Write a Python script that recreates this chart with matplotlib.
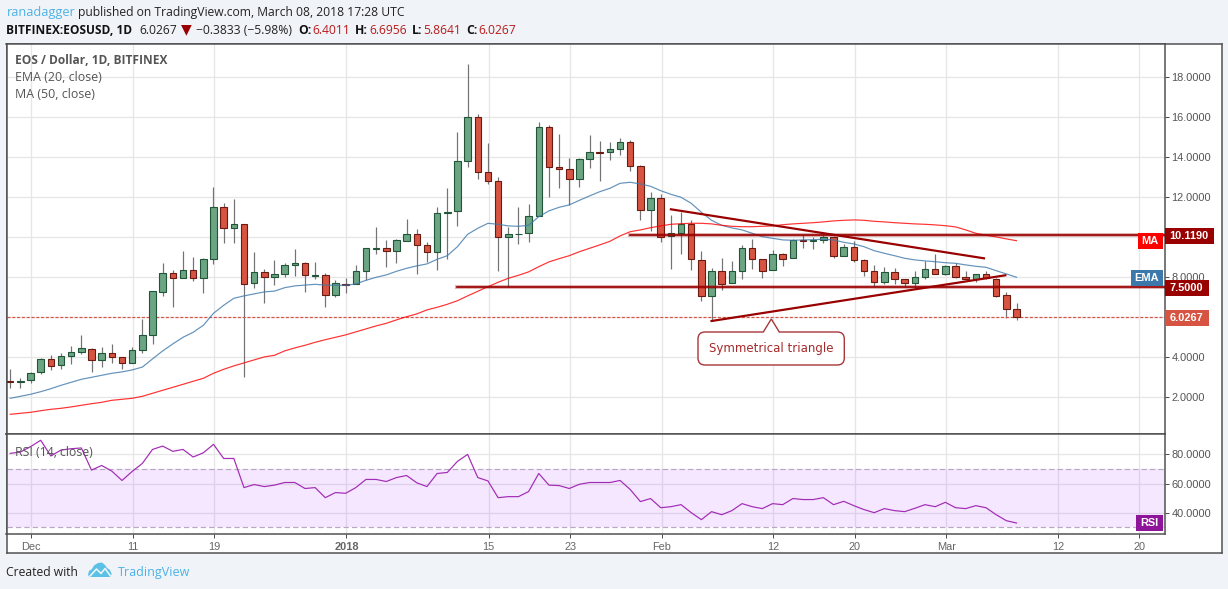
import matplotlib
matplotlib.use("Agg")
from matplotlib import pyplot as plt
from matplotlib.patches import Rectangle, PathPatch, Polygon
from matplotlib.path import Path

W, H = 1228, 589
PX = 0.72  # one pixel in points at dpi 100

opens = [2.80,2.76,2.85,3.25,3.90,3.60,4.05,4.25,4.40,3.85,4.20,4.00,3.70,4.35,5.10,7.25,8.20,7.95,8.35,7.95,
         8.90,11.50,10.45,10.65,7.70,8.25,8.00,8.15,8.60,8.70,8.08,8.10,7.10,7.66,7.65,8.30,9.43,9.45,9.30,9.80,
         10.15,9.60,9.25,11.20,11.30,13.80,16.00,13.25,12.80,10.00,10.15,10.20,11.05,15.50,13.50,13.40,12.90,13.90,14.25,14.25,
         14.40,14.75,13.55,11.35,11.95,10.05,10.20,10.65,8.85,7.05,8.30,7.70,8.30,9.45,8.90,8.35,9.15,8.95,9.85,9.83,
         9.85,10.00,9.05,9.50,8.85,8.30,7.75,8.25,7.90,7.70,8.00,8.40,8.15,8.55,8.00,7.90,8.15,7.90,7.10,6.4011]
highs = [3.40,2.95,3.25,3.97,4.10,4.22,4.55,5.12,4.45,4.52,4.67,4.00,4.52,5.92,7.30,8.70,8.35,9.32,9.02,8.95,
         12.50,11.70,11.90,10.65,9.27,8.40,8.87,8.70,9.42,8.75,8.77,8.20,7.87,7.95,8.62,9.45,10.52,9.85,9.90,10.92,
         10.42,9.77,11.52,12.47,15.27,18.67,16.15,14.72,13.02,10.52,11.52,11.67,15.77,15.62,15.17,13.97,13.97,15.12,14.82,14.75,
         14.95,14.87,13.62,12.27,12.17,11.12,11.25,10.85,9.30,8.45,8.95,8.82,9.60,9.90,8.90,9.35,9.20,9.90,10.10,10.00,
         10.12,10.05,9.65,9.82,8.90,8.60,8.52,8.45,7.90,8.32,8.82,9.15,8.60,8.70,8.32,8.15,8.30,7.95,7.25,6.6956]
lows = [2.48,2.48,2.73,3.18,3.37,3.42,3.67,4.16,3.26,3.52,3.72,3.42,3.70,4.22,4.67,7.07,6.52,7.95,7.83,7.23,
        8.68,9.73,9.73,3.03,7.47,6.72,7.62,8.03,8.07,7.28,7.93,6.53,7.03,7.23,7.65,7.87,9.17,8.52,8.72,9.80,
        8.17,8.75,8.37,8.92,10.57,13.50,12.92,12.67,8.32,7.50,9.67,9.77,11.05,12.00,12.47,11.62,12.52,13.47,12.83,13.87,
        14.12,13.33,10.88,10.33,9.78,8.43,9.17,8.38,6.83,5.81,7.37,7.70,7.93,8.43,7.98,8.35,8.57,8.95,9.45,9.40,
        9.72,8.95,9.05,8.75,8.08,7.58,7.65,7.65,7.50,7.45,7.90,8.15,8.10,7.95,7.85,7.75,7.90,7.03,5.95,5.8641]
closes = [2.76,2.80,3.20,3.90,3.55,4.05,4.25,4.45,3.85,4.20,4.00,3.70,4.35,5.10,7.30,8.20,7.95,8.35,7.95,8.90,
          11.50,10.45,10.65,7.65,8.25,8.00,8.15,8.60,8.70,8.10,8.10,7.10,7.70,7.63,8.30,9.45,9.45,9.30,9.85,10.15,
          9.60,9.25,11.20,11.25,13.80,16.00,13.25,12.80,10.00,10.15,10.18,11.05,15.50,13.50,13.40,12.90,13.90,14.25,14.22,14.40,
          14.75,13.55,11.35,11.95,10.00,10.20,10.65,8.90,7.05,8.30,7.65,8.30,9.45,8.90,8.30,9.15,8.90,9.85,9.83,9.87,
          10.00,9.05,9.50,8.85,8.30,7.75,8.25,7.90,7.70,8.00,8.40,8.15,8.55,8.00,7.90,8.15,7.95,7.08,6.40,6.0267]
ema20 = [1.95,2.05,2.15,2.28,2.43,2.60,2.75,2.90,3.00,3.10,3.20,3.27,3.37,3.51,3.92,4.32,4.67,5.00,5.25,5.60,
         6.20,6.60,6.95,7.07,7.17,7.27,7.31,7.48,7.57,7.61,7.65,7.61,7.60,7.60,7.67,7.85,8.00,8.12,8.30,8.45,
         8.57,8.67,8.90,9.08,9.53,10.15,10.45,10.70,10.65,10.57,10.55,10.60,11.03,11.32,11.50,11.62,11.85,12.07,12.28,12.45,
         12.70,12.75,12.67,12.55,12.33,12.15,12.00,11.70,11.25,10.85,10.60,10.47,10.37,10.20,10.03,9.95,9.87,9.85,9.87,9.88,
         9.90,9.87,9.75,9.67,9.53,9.33,9.20,9.08,8.95,8.87,8.82,8.78,8.73,8.70,8.62,8.55,8.50,8.33,8.17,8.00]
ma50 = [1.15,1.20,1.25,1.33,1.40,1.45,1.52,1.60,1.68,1.75,1.85,1.90,1.95,2.05,2.20,2.35,2.50,2.65,2.80,2.95,
        3.20,3.40,3.57,3.72,3.87,4.02,4.10,4.32,4.47,4.60,4.75,4.88,5.00,5.12,5.27,5.42,5.57,5.70,5.87,6.03,
        6.17,6.37,6.50,6.65,6.83,7.07,7.30,7.53,7.75,7.95,8.10,8.27,8.53,8.77,8.93,9.08,9.28,9.45,9.62,9.80,
        10.07,10.28,10.37,10.48,10.57,10.65,10.68,10.70,10.70,10.67,10.60,10.55,10.53,10.53,10.55,10.57,10.63,10.67,10.70,10.73,
        10.77,10.82,10.85,10.87,10.85,10.80,10.77,10.73,10.70,10.67,10.65,10.62,10.58,10.52,10.37,10.20,10.10,10.02,9.92,9.83]
rsi14 = [80.7,81.6,85.3,89.7,78.9,83.0,83.9,84.4,69.2,72.4,68.5,62.1,68.3,73.8,83.4,85.7,82.1,83.4,78.2,81.1,
         86.9,77.2,77.2,57.2,59.3,57.9,58.9,60.7,60.7,56.6,57.2,50.3,53.8,53.3,57.2,62.8,62.8,61.4,64.1,65.5,
         60.5,57.9,66.9,67.6,75.2,80.0,64.1,61.8,50.3,51.0,51.0,54.5,66.9,58.9,58.6,56.6,59.5,60.7,60.7,60.7,
         62.1,55.9,47.6,49.7,43.4,44.1,45.5,40.0,35.2,40.7,38.6,41.4,46.2,44.1,42.8,46.2,45.5,49.7,49.0,49.0,
         50.3,45.5,47.8,44.8,42.1,40.0,42.8,41.4,40.7,43.0,45.5,44.1,47.1,43.4,42.8,44.8,43.4,38.6,34.5,32.9]

date_ticks = [2, 12, 20, 33, 47, 55, 64, 75, 83, 92, 103, 111]
date_labels = ["Dec", "11", "19", "2018", "15", "23", "Feb", "12", "20", "Mar", "12", "20"]
price_ticks = [2, 4, 6, 8, 10, 12, 14, 16, 18]
price_hidden = [6, 10]  # these sit under the last-value tags
rsi_ticks = [40, 60, 80]

last_close = 6.0267
levels = [(44, 7.5), (61, 10.119)]
trend_upper = ([65, 95.8], [11.40, 8.95])
trend_lower = ([69, 97.9], [5.815, 8.10])

BG = "#f0f3f7"
FRAME = "#4e4e4e"
GRID = "#e6e6e6"
UP, UP_EDGE = "#6ba583", "#225437"
DOWN, DOWN_EDGE = "#d75442", "#6b1a12"
WICK = "#737375"
DARKRED = "#990000"
SANS = ["Liberation Sans"]
HEAD = ["Open Sans"]


def box(x0, y0, x1, y1):
    return [x0 / W, 1 - y1 / H, (x1 - x0) / W, (y1 - y0) / H]


fig = plt.figure(figsize=(W / 100, H / 100), dpi=100, facecolor=BG)

# outer white frame
bgax = fig.add_axes(box(6.5, 43.5, 1221.5, 552.5), zorder=0)
bgax.set_xticks([])
bgax.set_yticks([])
for s in bgax.spines.values():
    s.set_color(FRAME)
    s.set_linewidth(1.5 * PX)

ax = fig.add_axes(box(6.5, 43.5, 1164.5, 434), zorder=1)
ax2 = fig.add_axes(box(6.5, 434, 1164.5, 533.5), zorder=1, sharex=ax)
for a in (ax, ax2):
    for s in a.spines.values():
        s.set_color(FRAME)
        s.set_linewidth(1.5 * PX)
    a.grid(True, color=GRID, lw=1.3 * PX, zorder=0)
    a.set_axisbelow(True)
    a.yaxis.tick_right()

days = list(range(len(opens)))

# candles
ax.vlines(days, lows, highs, color=WICK, lw=1.2 * PX, zorder=2)
for i in days:
    up = closes[i] >= opens[i]
    ax.bar(i, abs(closes[i] - opens[i]), bottom=min(opens[i], closes[i]), width=0.64,
           color=UP if up else DOWN, edgecolor=UP_EDGE if up else DOWN_EDGE, lw=1.1 * PX, zorder=3)

ax.plot(days, ema20, color="#3d78ab", lw=1.2 * PX, alpha=0.8, zorder=4)
ax.plot(days, ma50, color="#ff0000", lw=1.2 * PX, alpha=0.8, zorder=4)
ax.axhline(last_close, color="#d75442", lw=1.2 * PX, ls=(0, (2.5, 1.5)), zorder=2)

# drawn levels and the triangle
for start, lev in levels:
    ax.plot([start, 200], [lev, lev], color=DARKRED, lw=4 * PX, alpha=0.3, zorder=5)
    ax.plot([start, 200], [lev, lev], color=DARKRED, lw=1.7 * PX, zorder=5)
ax.plot(*trend_upper, color=DARKRED, lw=2.2 * PX, zorder=5)
ax.plot(*trend_lower, color=DARKRED, lw=2.2 * PX, zorder=5)

ax.set_xlim(-0.364, 113.56)
ax.set_ylim(0.165, 19.69)
ax.set_yticks(price_ticks)
ax.set_yticklabels(["" if v in price_hidden else "%.4f" % v for v in price_ticks],
                   family=SANS, fontsize=11 * PX, color="#555555")
ax.tick_params(axis="y", length=4 * PX, width=1 * PX, color=FRAME, pad=3 * PX)
ax.tick_params(axis="x", bottom=False, labelbottom=False)

# rsi pane
ax2.axhspan(30, 70, color="#9915ff", alpha=0.1, lw=0, zorder=1)
ax2.axhline(70, color="#b9a8c4", lw=1.2 * PX, ls=(0, (4.5, 2.5)), zorder=2)
ax2.axhline(30, color="#b9a8c4", lw=1.2 * PX, ls=(0, (4.5, 2.5)), zorder=2)
ax2.plot(days, rsi14, color="#a32cb5", lw=1.2 * PX, zorder=4)
ax2.set_ylim(25.7, 94)
ax2.set_yticks(rsi_ticks)
ax2.set_yticklabels(["%.4f" % v for v in rsi_ticks], family=SANS, fontsize=11 * PX, color="#555555")
ax2.tick_params(axis="y", length=4 * PX, width=1 * PX, color=FRAME, pad=3 * PX)
ax2.set_xticks([d + 0.08 for d in date_ticks])
ax2.set_xticklabels(date_labels, family=SANS, fontsize=11 * PX, color="#666666")
ax2.tick_params(axis="x", length=4 * PX, width=1 * PX, color=FRAME, pad=4 * PX)
ax2.get_xticklabels()[3].set_fontweight("bold")

# overlay in pixel coordinates for tags, callout, header
ov = fig.add_axes([0, 0, 1, 1], zorder=5)
ov.set_xlim(0, W)
ov.set_ylim(H, 0)
ov.axis("off")
ov.patch.set_alpha(0)


def tag(x0, x1, y0, y1, color, txt):
    ov.add_patch(Rectangle((x0, y0), x1 - x0, y1 - y0, fc=color, ec="none", zorder=6))
    ov.text((x0 + x1) / 2, (y0 + y1) / 2 + 0.3, txt, color="white", ha="center", va="center",
            family=SANS, fontweight="bold", fontsize=11 * PX, zorder=7)


tag(1164.5, 1214, 228, 244, DARKRED, "10.1190")
tag(1164.5, 1209, 280, 295.5, DARKRED, "7.5000")
tag(1164.5, 1209, 310, 326, "#d75442", "6.0267")
tag(1138, 1162.7, 232.7, 248.7, "#ff0000", "MA")
tag(1131, 1162.7, 270.3, 286, "#3d78ab", "EMA")
tag(1136, 1162.7, 515, 530.7, "#8e1599", "RSI")

# callout
x0, y0, x1, y1, r = 698, 332, 844.3, 365, 7
verts = [(x0 + r, y0), (763.3, y0), (771.3, 319), (779.3, y0), (x1 - r, y0), (x1, y0), (x1, y0 + r),
         (x1, y1 - r), (x1, y1), (x1 - r, y1), (x0 + r, y1), (x0, y1), (x0, y1 - r),
         (x0, y0 + r), (x0, y0), (x0 + r, y0)]
codes = [Path.MOVETO, Path.LINETO, Path.LINETO, Path.LINETO, Path.LINETO, Path.CURVE3, Path.CURVE3,
         Path.LINETO, Path.CURVE3, Path.CURVE3, Path.LINETO, Path.CURVE3, Path.CURVE3,
         Path.LINETO, Path.CURVE3, Path.CURVE3]
ov.add_patch(PathPatch(Path(verts, codes), fc="white", ec="#a8373a", lw=1.4 * PX, zorder=6))
ov.text(771.5, 348.5, "Symmetrical triangle", color="#a52a2a", ha="center", va="center",
        family=["DejaVu Sans"], fontsize=11.8 * PX, zorder=7)

# pane legends
ov.text(15, 60.5, "EOS / Dollar, 1D, BITFINEX", color="#555555", family=HEAD, fontweight="bold",
        fontsize=11.9 * PX, va="center")
ov.text(15, 77.5, "EMA (20, close)", color="#555555", family=HEAD, fontsize=12.4 * PX, va="center")
ov.text(15, 94.5, "MA (50, close)", color="#555555", family=HEAD, fontsize=12.4 * PX, va="center")
ov.text(15, 452, "RSI (14, close)", color="#555555", family=HEAD, fontsize=12.2 * PX, va="center")

# header
hs = 12.1 * PX
ov.text(6.5, 16, "ranadagger", color="#4db2e6", family=HEAD, fontsize=12.7 * PX)
ov.text(77.5, 16, "published on TradingView.com, March 08, 2018 17:28 UTC", color="#222222", family=HEAD, fontsize=hs)
ov.text(6.5, 34, "BITFINEX:EOSUSD, 1D", color="#111111", family=HEAD, fontweight="bold", fontsize=11.9 * PX)
ov.text(139, 34, "6.0267", color="#222222", family=HEAD, fontsize=hs)
ov.text(181, 33.5, "\u25bc", color=DARKRED, family=["DejaVu Sans"], fontsize=14 * PX)
ov.text(195.5, 34, "\u22120.3833 (\u22125.98%)", color="#222222", family=HEAD, fontsize=hs)
for xl, lab, xv, val in [(298, "O:", 312, "6.4011"), (355, "H:", 369, "6.6956"),
                         (412, "L:", 423, "5.8641"), (466, "C:", 478, "6.0267")]:
    ov.text(xl, 34, lab, color="#111111", family=HEAD, fontweight="bold", fontsize=hs)
    ov.text(xv, 34, val, color="#b71c1c", family=HEAD, fontsize=hs)

# footer
ov.text(6.5, 576, "Created with", color="#222222", family=HEAD, fontsize=hs)
ov.text(118, 576, "TradingView", color="#4db2e6", family=HEAD, fontsize=12.5 * PX)
ov.add_patch(Polygon([(88, 575), (89, 571), (92, 569), (94, 565.5), (98, 563), (102, 562.5), (105, 565),
                      (107, 568), (110, 570), (111.7, 574), (110.5, 577), (89.5, 577)],
                     closed=True, fc="#5bc0e6", ec="none"))
ov.plot([90, 96.5, 101, 105, 110.5], [576, 569, 573.5, 568.5, 576], color=BG, lw=1.6 * PX)

fig.savefig("out.png", dpi=100, facecolor=BG)
